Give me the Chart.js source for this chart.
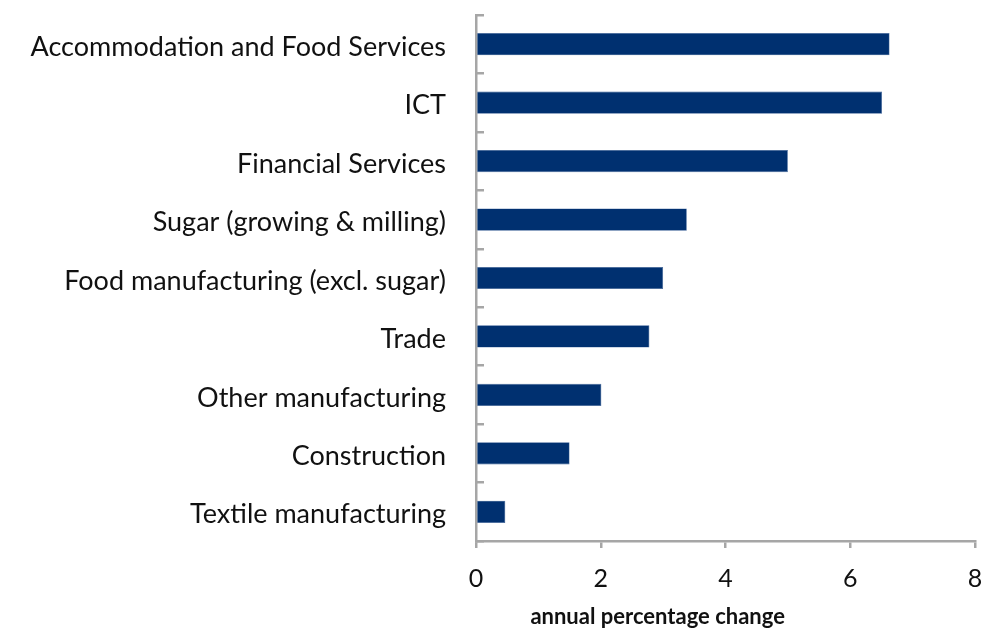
<!DOCTYPE html>
<html>
<head>
<meta charset="utf-8">
<script src="https://cdn.jsdelivr.net/npm/chart.js@4.4.1/dist/chart.umd.min.js"></script>
<style>
    html, body { margin: 0; background: #fff; }
    #wrap { width: 1002px; height: 630px; position: relative; }
</style>
</head>
<body>
<div id="wrap"><canvas id="chart"></canvas></div>
<script>
// sectors, top to bottom
const sectors = [
    'Accommodation and Food Services',
    'ICT',
    'Financial Services',
    'Sugar (growing & milling)',
    'Food manufacturing (excl. sugar)',
    'Trade',
    'Other manufacturing',
    'Construction',
    'Textile manufacturing',
];
// annual percentage change per sector
const growth = [6.63, 6.51, 5.0, 3.38, 3.0, 2.78, 2.01, 1.5, 0.47];
const xTickValues = [0, 2, 4, 6, 8];
const xTitle = 'annual percentage change';

const FONT = 'Lato';
const AXIS_GREY = '#a6a6a6';

// x axis title sits off-centre, under the left part of the axis
const xTitlePlugin = {
    id: 'xTitle',
    afterDraw(chart) {
        const ctx = chart.ctx;
        const x = chart.scales.x;
        ctx.save();
        ctx.font = 'bold 22px ' + FONT;
        ctx.fillStyle = '#111';
        ctx.textAlign = 'center';
        ctx.textBaseline = 'middle';
        ctx.fillText(xTitle, x.left + (x.right - x.left) * 0.364, 617);
        ctx.restore();
    },
};

new Chart(document.getElementById('chart'), {
    type: 'bar',
    data: {
        labels: sectors,
        datasets: [{
            data: growth,
            backgroundColor: '#003070',
            borderColor: '#3a5f96',
            borderWidth: 0.6,
            categoryPercentage: 1,
            barPercentage: 0.38,
        }],
    },
    options: {
        indexAxis: 'y',
        responsive: true,
        maintainAspectRatio: false,
        animation: false,
        layout: { padding: { left: 0, right: 27, top: 15, bottom: 0 } },
        plugins: {
            legend: { display: false },
            tooltip: { enabled: false },
        },
        scales: {
            x: {
                min: 0,
                max: 8,
                afterBuildTicks(scale) {
                    scale.ticks = xTickValues.map(v => ({ value: v }));
                },
                afterFit(scale) {
                    scale.height = 89;
                    scale.paddingLeft = 0;
                    scale.paddingRight = 0;
                },
                border: { color: AXIS_GREY, width: 2.5 },
                grid: {
                    drawOnChartArea: false,
                    color: AXIS_GREY,
                    lineWidth: 2.5,
                    tickLength: 7,
                },
                ticks: {
                    font: { family: FONT, size: 25 },
                    color: '#111',
                    padding: 16,
                    maxRotation: 0,
                },
            },
            y: {
                afterFit(scale) {
                    scale.width = 476;
                    scale.paddingTop = 0;
                    scale.paddingBottom = 0;
                },
                border: { color: AXIS_GREY, width: 2.5 },
                grid: {
                    drawOnChartArea: false,
                    color: AXIS_GREY,
                    lineWidth: 2.5,
                    tickLength: -8,
                },
                ticks: {
                    font: { family: FONT, size: 27 },
                    color: '#111',
                    padding: 38,
                    labelOffset: 3,
                },
            },
        },
    },
    plugins: [xTitlePlugin],
});
</script>
</body>
</html>
